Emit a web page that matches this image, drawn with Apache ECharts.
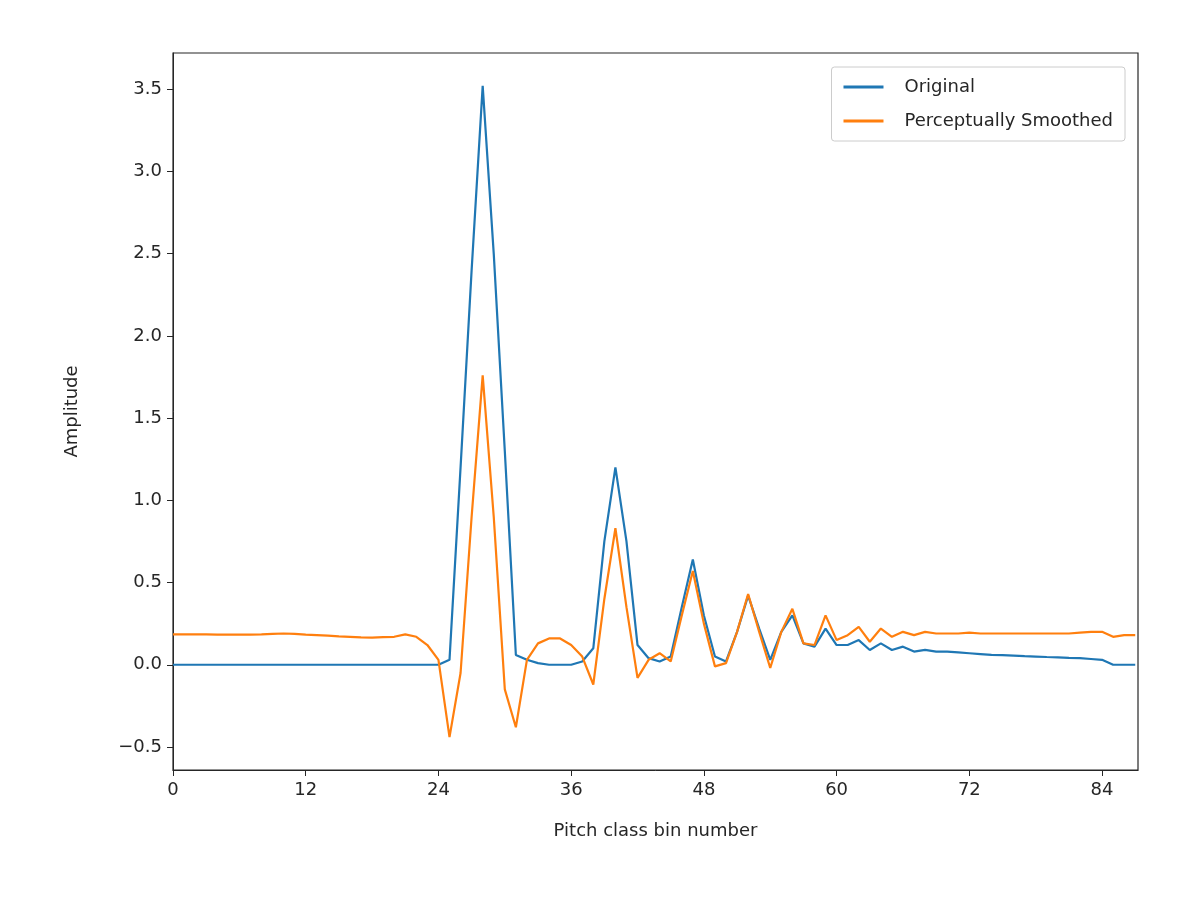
<!DOCTYPE html>
<html><head><meta charset="utf-8">
<script src="https://cdn.jsdelivr.net/npm/echarts@6/dist/echarts.min.js"></script>
<style>html,body{margin:0;padding:0;background:#fff}#c{width:1200px;height:902px}</style>
</head><body><div id="c"></div>
<script>
const bins = Array.from({length: 88}, (_, i) => i);
const original = [
 0,0,0,0,0,0,0,0,0,0, 0,0,0,0,0,0,0,0,0,0,
 0,0,0,0,0,0.03,1.2,2.4,3.52,2.5, 1.3,0.06,0.03,0.01,0,0,0,0.02,0.1,0.75,
 1.2,0.75,0.12,0.04,0.02,0.05,0.35,0.64,0.3,0.05, 0.02,0.2,0.42,0.22,0.03,0.2,0.3,0.13,0.11,0.22,
 0.12,0.12,0.15,0.09,0.13,0.09,0.11,0.08,0.09,0.08, 0.08,0.075,0.07,0.065,0.06,0.058,0.055,0.052,0.05,0.047,
 0.045,0.042,0.04,0.035,0.03,0.0,0.0,0.0];
const smoothed = [
 0.185,0.185,0.185,0.185,0.183,0.183,0.183,0.183,0.185,0.188, 0.19,0.188,0.183,0.18,0.177,0.173,0.17,0.167,0.165,0.168,
 0.17,0.185,0.17,0.12,0.03,-0.44,-0.05,0.9,1.76,0.9, -0.15,-0.38,0.03,0.13,0.16,0.16,0.12,0.05,-0.12,0.4,
 0.83,0.35,-0.08,0.03,0.07,0.02,0.3,0.57,0.25,-0.01, 0.01,0.2,0.43,0.2,-0.02,0.2,0.34,0.13,0.12,0.3,
 0.15,0.18,0.23,0.14,0.22,0.17,0.2,0.18,0.2,0.19, 0.19,0.19,0.195,0.19,0.19,0.19,0.19,0.19,0.19,0.19,
 0.19,0.19,0.195,0.2,0.2,0.17,0.18,0.18];
const xTicks = [0,12,24,36,48,60,72,84];
const yTicks = [-0.5,0,0.5,1,1.5,2,2.5,3,3.5];
const font = 'DejaVu Sans';
const tc = '#262626';
const chart = echarts.init(document.getElementById('c'), null, {renderer:'canvas'});
chart.setOption({
  animation:false,
  backgroundColor:'#fff',
  legend:{top:67,right:75,orient:'vertical',itemWidth:40,itemHeight:3,itemGap:16,
    padding:[11,12,11,12],borderColor:'#ccc',borderWidth:1,borderRadius:3,
    textStyle:{fontFamily:font,fontSize:18,color:tc,padding:[0,0,0,16]},
    data:[{name:'Original',icon:'rect'},{name:'Perceptually Smoothed',icon:'rect'}]},
  grid:{left:173,top:53,right:62,bottom:132,show:true,borderColor:'#262626',borderWidth:1.2},
  xAxis:{type:'value',min:0,max:87.25,name:'Pitch class bin number',nameLocation:'middle',nameGap:52,
    nameTextStyle:{fontFamily:font,fontSize:18,color:tc},
    axisLine:{show:true,onZero:false,lineStyle:{color:'#262626'}},splitLine:{show:false},
    axisTick:{show:true,length:6,customValues:xTicks,lineStyle:{color:'#262626'}},
    axisLabel:{customValues:xTicks,fontFamily:font,fontSize:18,color:tc,margin:11}},
  yAxis:{type:'value',min:-0.64,max:3.72,name:'Amplitude',nameLocation:'middle',nameGap:92,
    nameTextStyle:{fontFamily:font,fontSize:18,color:tc},
    axisLine:{show:true,onZero:false,lineStyle:{color:'#262626'}},splitLine:{show:false},
    axisTick:{show:true,length:6,customValues:yTicks,lineStyle:{color:'#262626'}},
    axisLabel:{customValues:yTicks,fontFamily:font,fontSize:18,color:tc,margin:11,
      formatter:v=>v.toFixed(1).replace('-','\u2212')}},
  series:[
    {name:'Original',type:'line',showSymbol:false,color:'#1f77b4',lineStyle:{width:2.2},
      data:bins.map((b,i)=>[b,original[i]])},
    {name:'Perceptually Smoothed',type:'line',showSymbol:false,color:'#ff7f0e',lineStyle:{width:2.2},
      data:bins.map((b,i)=>[b,smoothed[i]])}
  ]
});
</script></body></html>
